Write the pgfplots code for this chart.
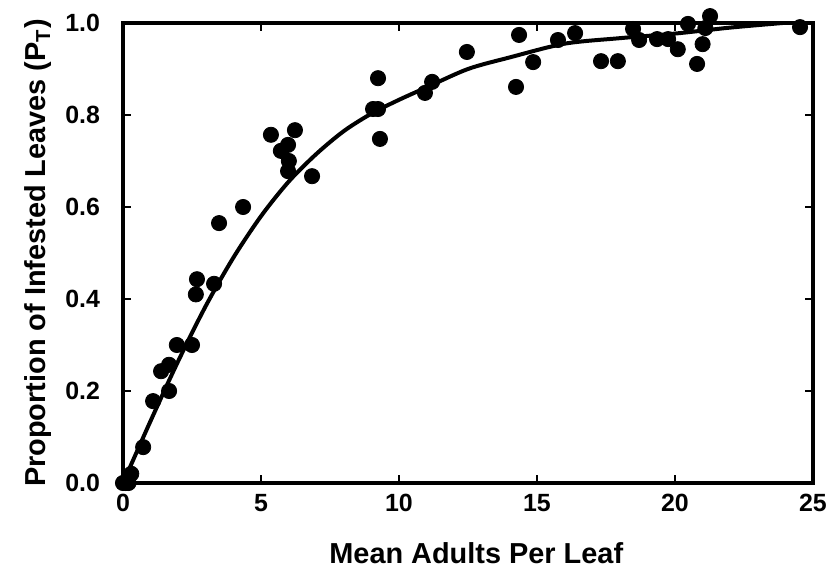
\documentclass[border=0pt]{standalone}
\usepackage{fontspec}
\setmainfont{Liberation Sans}
\usepackage{pgfplots}
\pgfplotsset{compat=1.18}
\begin{document}
\begin{tikzpicture}
\begin{axis}[
  scale only axis, width=345bp, height=230bp,
  xmin=0, xmax=25, ymin=0, ymax=1,
  xtick={0,5,10,15,20,25}, ytick={0,0.2,0.4,0.6,0.8,1.0},
  tick align=inside, major tick length=4bp,
  axis line style={line width=1.6bp}, every tick/.style={line width=1.2bp, black},
  clip=false,
  font=\fontsize{12.5}{14}\selectfont\bfseries,
  /pgf/number format/assume math mode=true,
  y tick label style={/pgf/number format/fixed, /pgf/number format/fixed zerofill, /pgf/number format/precision=1},
  yticklabel style={xshift=-8bp},
  xticklabel style={yshift=-2bp},
  xlabel={Mean Adults Per Leaf},
  ylabel={Proportion of Infested Leaves (P\textsubscript{T})},
  every axis x label/.style={at={(axis description cs:0.512,-0.174)}, anchor=base, font=\fontsize{14.5}{17}\selectfont\bfseries},
  every axis y label/.style={at={(axis description cs:-0.112,0.5)}, anchor=base, rotate=90, font=\fontsize{14.5}{17}\selectfont\bfseries},
]
\addplot[only marks, mark=*, mark size=3.8bp, black] coordinates {
(0,0)(0.1,0)(0.15,0.005)(0.2,0)(0.3,0.02)
(0.73,0.078)(1.09,0.178)(1.38,0.243)(1.67,0.257)(1.67,0.20)(1.95,0.30)(2.5,0.30)
(2.64,0.41)(2.68,0.443)(3.30,0.433)(3.48,0.565)(4.35,0.60)
(5.36,0.757)(6.23,0.767)(5.98,0.735)(5.72,0.722)(6.01,0.70)(5.98,0.678)(6.85,0.667)
(9.06,0.813)(9.24,0.813)(9.31,0.748)(9.24,0.88)(10.94,0.848)(11.2,0.872)
(12.46,0.937)(14.35,0.974)(14.24,0.861)(14.86,0.915)(15.76,0.963)(16.38,0.978)
(17.32,0.917)(17.93,0.917)(18.48,0.987)(18.7,0.963)(19.35,0.965)(19.75,0.965)
(20.1,0.943)(20.47,0.998)(20.8,0.911)(21.0,0.954)(21.1,0.989)(21.27,1.015)(24.53,0.991)
};
\addplot[smooth, line width=2bp, black, no marks] coordinates {
(0,0)(1,0.135)(2,0.265)(3,0.385)(4,0.49)(5,0.58)(6,0.655)(7,0.715)(8,0.765)
(9,0.803)(10,0.833)(11,0.86)(12.5,0.9)(14,0.925)(16,0.955)(18,0.967)(20,0.977)
(22,0.99)(23.9,1.0)
};
\end{axis}
\pgfresetboundingbox
\path (-61.5bp,-46.5bp) rectangle (358.5bp,241.5bp);
\end{tikzpicture}
\end{document}
